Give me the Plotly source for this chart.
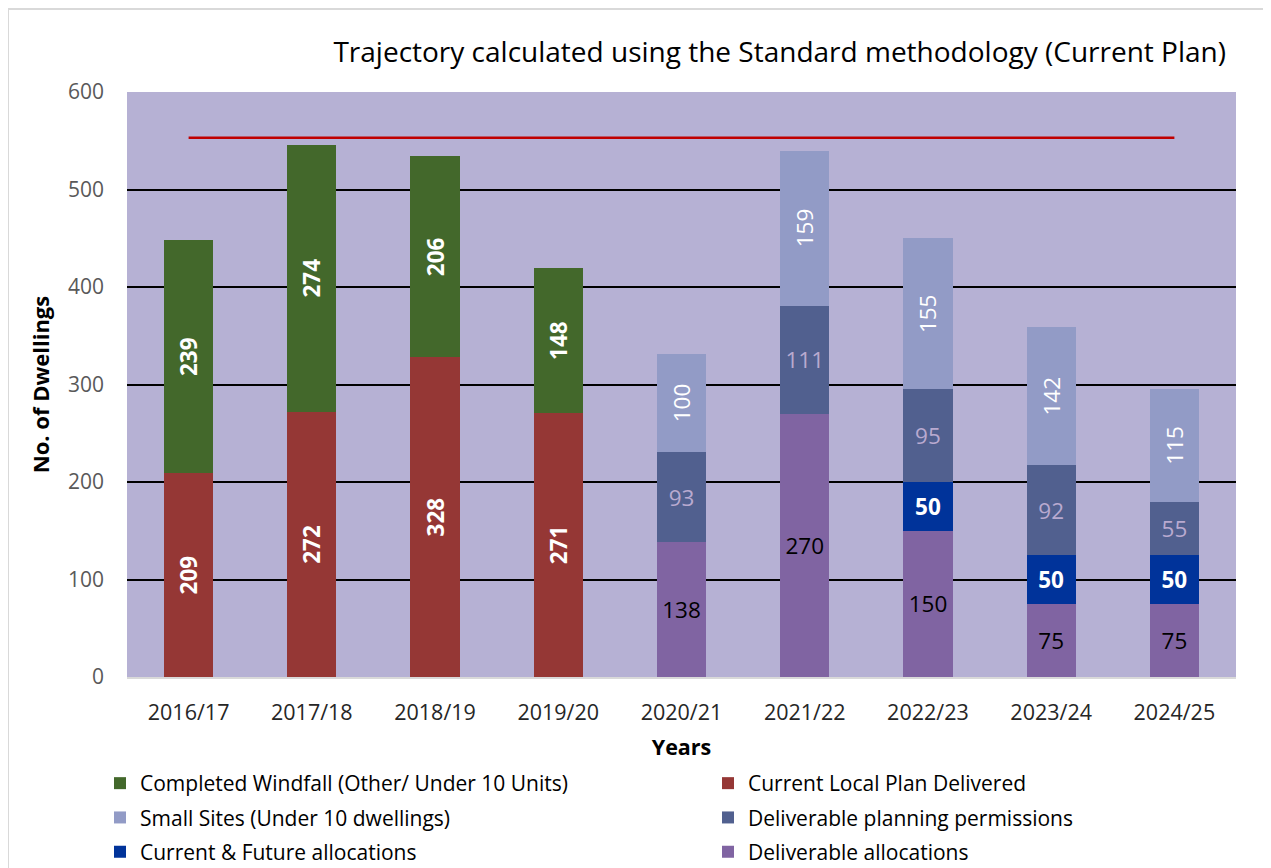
import plotly.graph_objects as go

years = ["2016/17", "2017/18", "2018/19", "2019/20", "2020/21", "2021/22", "2022/23", "2023/24", "2024/25"]
local_plan = [209, 272, 328, 271, None, None, None, None, None]
windfall = [239, 274, 206, 148, None, None, None, None, None]
deliv_alloc = [None, None, None, None, 138, 270, 150, 75, 75]
current_future = [None, None, None, None, None, None, 50, 50, 50]
planning_perm = [None, None, None, None, 93, 111, 95, 92, 55]
small_sites = [None, None, None, None, 100, 159, 155, 142, 115]
requirement = [553] * len(years)

FONT = "Open Sans"

# page has an 8px body margin, so layout coords = page coords - 8
W, H = 1263, 860
ML, MR, MT, MB = 119, 35, 84, 191
PW = W - ML - MR
PH = H - MT - MB

series = [
    # name, values, color, text color, bold, angle, legend, rank
    ("Current Local Plan Delivered", local_plan, "#953735", "white", True, -90, "legend2", 1),
    ("Completed Windfall (Other/ Under 10 Units)", windfall, "#43682B", "white", True, -90, "legend", 1),
    ("Deliverable allocations", deliv_alloc, "#8064A2", "black", False, 0, "legend2", 3),
    ("Current & Future allocations", current_future, "#00339A", "white", True, 0, "legend", 3),
    ("Deliverable planning permissions", planning_perm, "#51608F", "#B9AAD0", False, 0, "legend2", 2),
    ("Small Sites (Under 10 dwellings)", small_sites, "#929BC6", "white", False, -90, "legend", 2),
]

fig = go.Figure()
for name, vals, col, tcol, bold, ang, leg, rank in series:
    fig.add_trace(go.Bar(
        x=years, y=vals, name=name,
        marker=dict(color=col, line=dict(width=0)),
        text=[None if v is None else str(v) for v in vals],
        texttemplate="%{text}",
        textposition="inside", insidetextanchor="middle",
        textangle=ang, constraintext="none",
        textfont=dict(family=FONT, size=22.5, color=tcol, weight="bold" if bold else "normal"),
        legend=leg, legendrank=rank, legendgroup=name,
        hoverinfo="skip",
    ))

fig.add_trace(go.Scatter(
    x=years, y=requirement, mode="lines",
    line=dict(color="#C00000", width=2.5),
    showlegend=False, hoverinfo="skip",
))

leg_top = (H - MB - 755) / PH

fig.update_layout(
    width=W, height=H,
    barmode="stack", bargap=0.6,
    paper_bgcolor="white", plot_bgcolor="#B6B1D4",
    margin=dict(l=ML, r=MR, t=MT, b=MB, autoexpand=False),
    font=dict(family=FONT, color="#000000"),
    title=dict(
        text="Trajectory calculated using the Standard methodology (Current Plan)",
        x=1218 / W, xanchor="right", xref="container",
        y=1 - 44 / H, yanchor="middle", yref="container",
        font=dict(family=FONT, size=28, color="#000000"),
    ),
    showlegend=True,
    legend=dict(
        x=(92 - ML) / PW, y=leg_top, xanchor="left", yanchor="top",
        orientation="v", font=dict(family=FONT, size=21, color="#000000"),
        tracegroupgap=4, traceorder="grouped", bgcolor="rgba(0,0,0,0)",
    ),
    legend2=dict(
        x=(700 - ML) / PW, y=leg_top, xanchor="left", yanchor="top",
        orientation="v", font=dict(family=FONT, size=21, color="#000000"),
        tracegroupgap=4, traceorder="grouped", bgcolor="rgba(0,0,0,0)",
    ),
    xaxis=dict(
        title=dict(text="<b>Years</b>", font=dict(family=FONT, size=21.5, color="#000000"), standoff=15),
        tickfont=dict(family=FONT, size=21.5, color="#262626"),
        showline=True, linecolor="#D9D9D9", linewidth=2,
        ticks="", ticklabelstandoff=15,
    ),
    yaxis=dict(
        title=dict(text="<b>No. of Dwellings</b>", font=dict(family=FONT, size=22, color="#000000"), standoff=12),
        range=[0, 600], dtick=100,
        tickfont=dict(family=FONT, size=21, color="#595959"),
        showgrid=True, gridcolor="#000000", gridwidth=2,
        zeroline=False, ticks="", ticklabelstandoff=22,
    ),
    shapes=[dict(
        type="rect", xref="paper", yref="paper",
        x0=(0 - ML) / PW, x1=1.2, y0=-0.5, y1=1 + (MT - 1) / PH,
        line=dict(color="#D9D9D9", width=2), fillcolor="rgba(0,0,0,0)", layer="below",
    )],
)

fig.write_html("out.html")
